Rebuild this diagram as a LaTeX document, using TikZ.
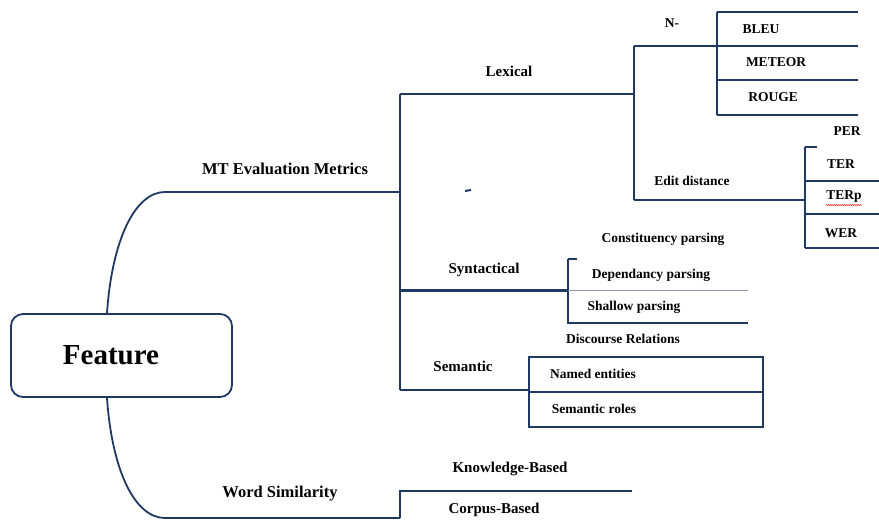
\documentclass[tikz,border=0pt]{standalone}
\usepackage{fontspec}
\setmainfont{Liberation Serif}
\usetikzlibrary{positioning,decorations.pathmorphing}
\definecolor{navy}{HTML}{1F3864}
\definecolor{navysoft}{HTML}{8C98AE}
\begin{document}
\begin{tikzpicture}[x=1pt,y=-1pt,
  wire/.style={draw=navy,line width=2pt},
  softwire/.style={draw=navysoft,line width=1pt},
  root/.style={draw=navy,line width=1.8pt,rounded corners=12pt,minimum width=221pt,minimum height=83pt,inner sep=0pt,font=\bfseries\fontsize{29}{32}\selectfont},
  branch/.style={font=\bfseries\fontsize{16.5}{18}\selectfont,inner sep=0pt},
  mid/.style={font=\bfseries\fontsize{15}{17}\selectfont,inner sep=0pt},
  leaf/.style={font=\bfseries\fontsize{13.5}{15}\selectfont,inner sep=0pt}]
  \useasboundingbox (0,0) rectangle (879,522);
  % root
  \node[root] (feature) at (121.5,355.5) {\raisebox{-2pt}{Feature}\rule{21pt}{0pt}};
  % first level
  \node[branch] (mt) at (285,169) {MT Evaluation Metrics};
  \node[branch] (ws) at (280,494) {Word Similarity};
  \coordinate (mtknee) at (165,192);
  \coordinate (mtjoin) at (400,192);
  \coordinate (wsknee) at (165,518);
  \coordinate (wsjoin) at (400,518);
  \draw[wire,line width=1.8pt] ([xshift=-14.5pt]feature.north) .. controls (112,240) and (135,192) .. (mtknee) -- (mtjoin);
  \draw[wire,line width=1.8pt] ([xshift=-14.5pt]feature.south) .. controls (112,471) and (135,518) .. (wsknee) -- (wsjoin);
  % MT metrics
  \node[mid] (lex) at (509,71) {Lexical};
  \node[mid] (syn) at (484,270) {Syntactical};
  \node[mid] (sem) at (463,366) {Semantic};
  \coordinate (lexjoin) at (400,94);
  \coordinate (semjoin) at (400,390);
  \coordinate (synjoin) at (400,290);
  \coordinate (lexfork) at (634,94);
  \coordinate (synbox) at (568,290);
  \coordinate (sembox) at (529,390);
  \draw[wire] (lexjoin) -- (semjoin);
  \draw[wire] (lexjoin) -- (lexfork);
  \draw[wire,line width=3pt] (synjoin) -- (synbox);
  \draw[wire] (semjoin) -- (sembox);
  \draw[wire] (465,191) -- (471,190);
  % lexical
  \node[leaf] (ngram) at (672,23) {N-};
  \node[leaf] (edit) at (692,181) {Edit distance};
  \coordinate (ntop) at (634,46);
  \coordinate (ebot) at (634,200);
  \coordinate (nbox) at (717,46);
  \coordinate (ebox) at (805,200);
  \draw[wire] (ntop) -- (ebot);
  \draw[wire] (ntop) -- (nbox);
  \draw[wire] (ebot) -- (ebox);
  \draw[wire] (717,12) -- (717,115);
  \foreach \y in {12,46,80,115} \draw[wire] (717,\y) -- (858,\y);
  \node[leaf] (bleu) at (761,29) {BLEU};
  \node[leaf] (meteor) at (776,62) {METEOR};
  \node[leaf] (rouge) at (773,97) {ROUGE};
  \draw[wire] (805,147) -- (805,248);
  \draw[wire] (805,147) -- (817,147);
  \foreach \y in {181,214,248} \draw[wire] (805,\y) -- (879,\y);
  \node[leaf] (per) at (847,131) {PER};
  \node[leaf] (ter) at (841,164) {TER};
  \node[leaf] (terp) at (844,197) {TERp};
  \node[leaf] (wer) at (841,233) {WER};
  \draw[red,line width=0.4pt,decorate,decoration={snake,amplitude=0.6pt,segment length=2pt}] ([yshift=-2pt]terp.south west) -- ([yshift=-2pt]terp.south east);
  % syntactical
  \draw[wire] (568,259) -- (568,323) -- (748,323);
  \draw[wire] (568,259) -- (577,259);
  \draw[softwire] (synbox) -- (748,290);
  \node[leaf] (const) at (663,239) {Constituency parsing};
  \node[leaf] (dep) at (651,275) {Dependancy parsing};
  \node[leaf] (shallow) at (634,307) {Shallow parsing};
  % semantic
  \draw[wire] (529,357) rectangle (763,427);
  \draw[wire] (529,392) -- (763,392);
  \node[leaf] (disc) at (623,339) {Discourse Relations};
  \node[leaf] (named) at (593,374) {Named entities};
  \node[leaf] (roles) at (594,409) {Semantic roles};
  % word similarity
  \node[mid] (know) at (510,469) {Knowledge-Based};
  \node[mid] (corpus) at (494,510) {Corpus-Based};
  \coordinate (wsup) at (400,491);
  \coordinate (wsend) at (632,491);
  \draw[wire] (wsjoin) -- (wsup) -- (wsend);
\end{tikzpicture}
\end{document}
